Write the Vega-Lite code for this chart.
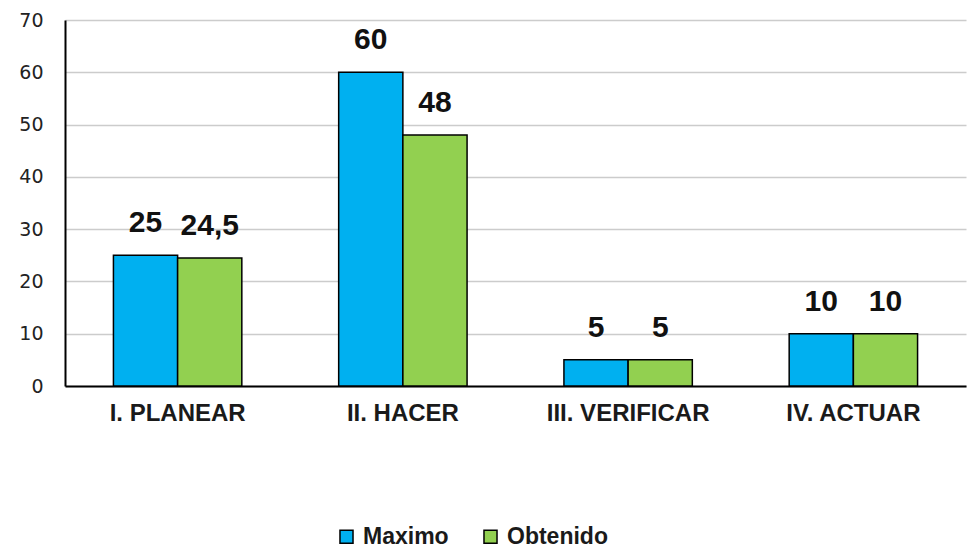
{
  "$schema": "https://vega.github.io/schema/vega-lite/v6.json",
  "autosize": {"type": "none"},
  "width": 901,
  "height": 366,
  "padding": {"left": 65, "top": 20, "right": 8, "bottom": 162},
  "background": "white",
  "config": {
    "view": {"stroke": null},
    "locale": {"number": {"decimal": ",", "thousands": ".", "grouping": [3], "currency": ["", " €"]}}
  },
  "data": {
    "values": [
      {"fase": "I. PLANEAR", "serie": "Maximo", "valor": 25},
      {"fase": "I. PLANEAR", "serie": "Obtenido", "valor": 24.5},
      {"fase": "II. HACER", "serie": "Maximo", "valor": 60},
      {"fase": "II. HACER", "serie": "Obtenido", "valor": 48},
      {"fase": "III. VERIFICAR", "serie": "Maximo", "valor": 5},
      {"fase": "III. VERIFICAR", "serie": "Obtenido", "valor": 5},
      {"fase": "IV. ACTUAR", "serie": "Maximo", "valor": 10},
      {"fase": "IV. ACTUAR", "serie": "Obtenido", "valor": 10}
    ]
  },
  "encoding": {
    "x": {
      "field": "fase", "type": "nominal", "sort": null,
      "scale": {"paddingInner": 0.43, "paddingOuter": 0.215},
      "axis": {
        "title": null, "labelAngle": 0, "ticks": false,
        "domainColor": "#000000", "domainWidth": 2,
        "labelFont": "Liberation Sans", "labelFontWeight": "bold",
        "labelFontSize": 24, "labelColor": "#1a1a1a", "labelPadding": 15,
        "labelLimit": 0
      }
    },
    "xOffset": {"field": "serie", "type": "nominal", "sort": ["Maximo", "Obtenido"]},
    "y": {
      "field": "valor", "type": "quantitative",
      "scale": {"domain": [0, 70], "nice": false},
      "axis": {
        "title": null, "values": [0, 10, 20, 30, 40, 50, 60, 70],
        "ticks": false, "labelPadding": 22,
        "domainColor": "#000000", "domainWidth": 2,
        "gridColor": "#cccccc", "gridWidth": 1.5,
        "labelFont": "DejaVu Sans", "labelFontSize": 19, "labelColor": "#222222"
      }
    }
  },
  "layer": [
    {
      "mark": {"type": "bar", "stroke": "#000000", "strokeWidth": 1.5},
      "encoding": {
        "color": {
          "field": "serie", "type": "nominal",
          "scale": {"domain": ["Maximo", "Obtenido"], "range": ["#00B0F0", "#92D050"]},
          "legend": {
            "title": null, "orient": "none", "direction": "horizontal",
            "legendX": 270, "legendY": 505,
            "symbolType": "square", "symbolSize": 170,
            "symbolStrokeColor": "#000000", "symbolStrokeWidth": 1.5,
            "labelFont": "Liberation Sans", "labelFontWeight": "bold",
            "labelFontSize": 23, "labelColor": "#1a1a1a",
            "labelOffset": 5, "columnPadding": 30, "labelLimit": 0
          }
        }
      }
    },
    {
      "mark": {
        "type": "text", "baseline": "alphabetic", "dy": -23,
        "font": "Liberation Sans", "fontWeight": "bold", "fontSize": 30, "color": "#111111"
      },
      "encoding": {
        "text": {"field": "valor", "type": "quantitative", "format": "~g"}
      }
    }
  ]
}
